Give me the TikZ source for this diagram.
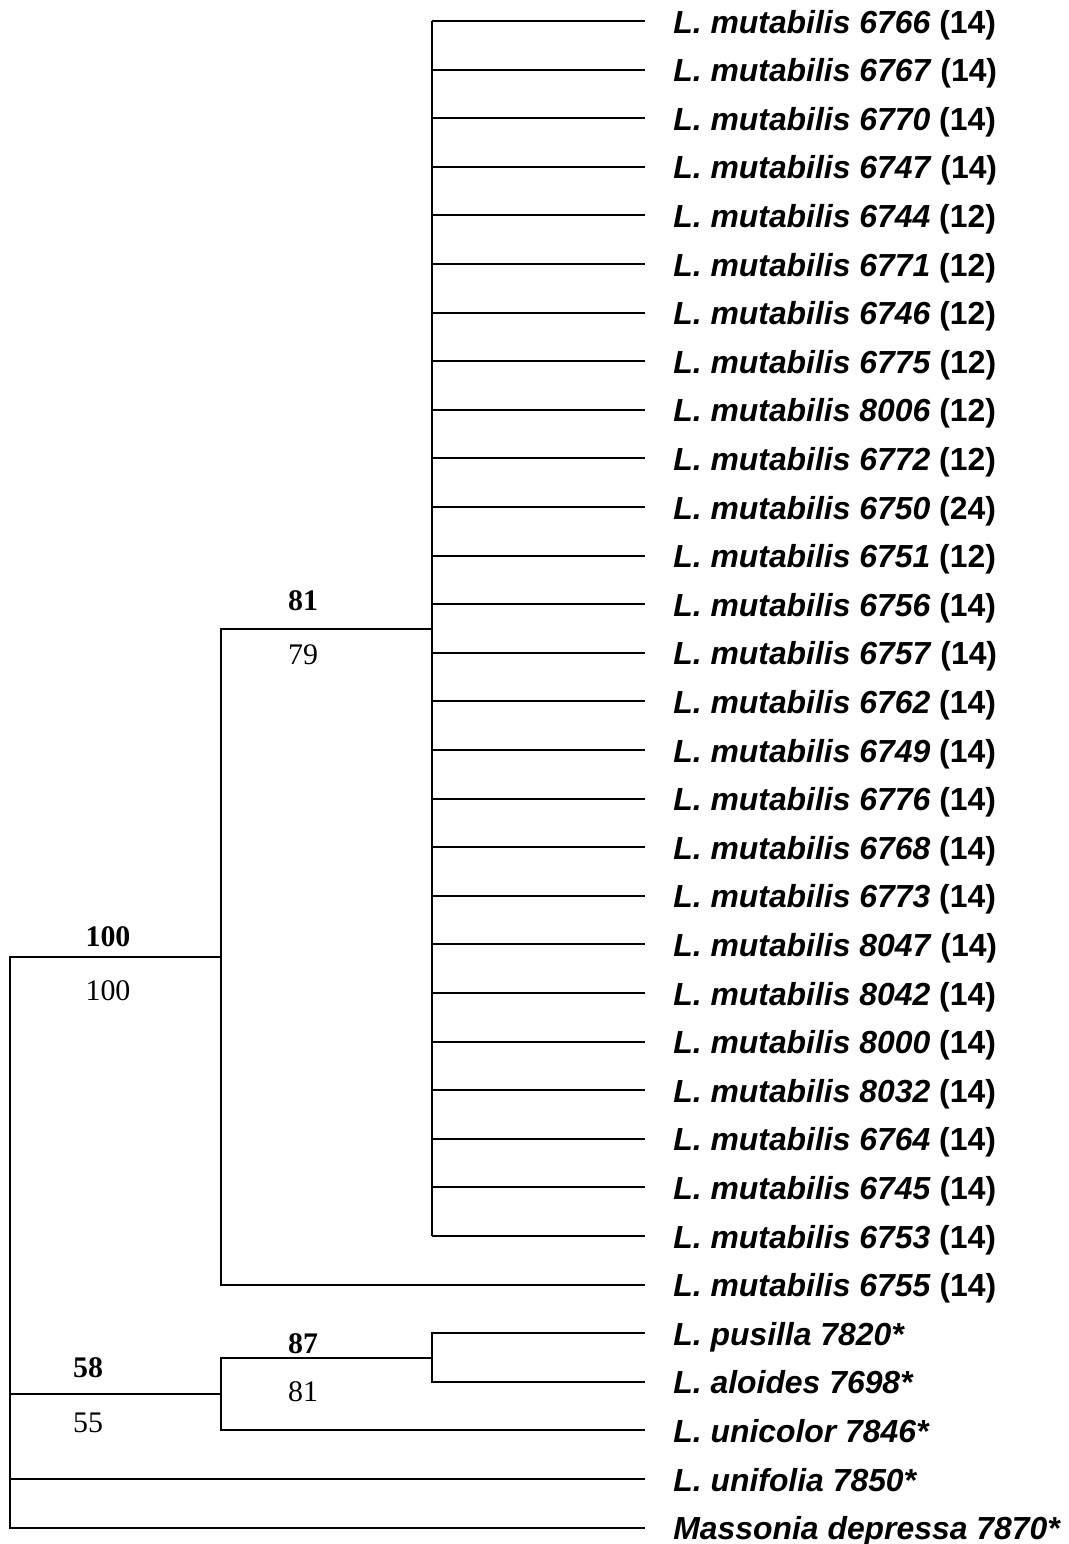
\documentclass[tikz,border=0pt]{standalone}
\usepackage{fontspec}
\setmainfont{Liberation Serif}
\setsansfont{Liberation Sans}
\usetikzlibrary{positioning, calc}

\tikzset{
  branch/.style={line width=1bp},
  taxon/.style={anchor=base west, inner sep=0pt, font=\sffamily\bfseries\fontsize{16}{19}\selectfont},
  boot/.style={inner sep=0pt, font=\fontsize{15}{18}\selectfont},
  bootb/.style={boot, font=\bfseries\fontsize{15}{18}\selectfont},
}

\begin{document}
\begin{tikzpicture}[x=0.5bp, y=-0.5bp]
  \useasboundingbox (0,0) rectangle (1068,1544);
  % tips of L. mutabilis
  \foreach \id/\n [count=\i from 0] in {6766/14, 6767/14, 6770/14, 6747/14, 6744/12,
      6771/12, 6746/12, 6775/12, 8006/12, 6772/12, 6750/24, 6751/12, 6756/14, 6757/14,
      6762/14, 6749/14, 6776/14, 6768/14, 6773/14, 8047/14, 8042/14, 8000/14, 8032/14,
      6764/14, 6745/14, 6753/14, 6755/14}{
    \coordinate (tip\i) at (645,21+48.6*\i);
    \node[taxon] (lab\i) at ([xshift=14bp,yshift=-6bp]tip\i) {\textit{L. mutabilis \id} (\n)};
  }
  % outgroup tips
  \foreach \sp [count=\i from 27] in {L. pusilla 7820*, L. aloides 7698*, L. unicolor 7846*,
      L. unifolia 7850*, Massonia depressa 7870*}{
    \coordinate (tip\i) at (645,21+48.6*\i);
    \node[taxon] (lab\i) at ([xshift=14bp,yshift=-6bp]tip\i) {\textit{\sp}};
  }
  % internal nodes
  \coordinate (mut) at (432,628.5);
  \coordinate (mutall) at (221,956.5);
  \coordinate (pusal) at (432,1357.5);
  \coordinate (unic) at (221,1394);
  \coordinate (root) at (10,1242);
  % branches
  \draw[branch] (mut |- tip0) -- (mut |- tip25);
  \foreach \i in {0,...,25}
    \draw[branch] (mut |- tip\i) -- (tip\i);
  \draw[branch] (mut) -| (mutall) |- (tip26);
  \draw[branch] (tip27) -| (pusal) |- (tip28);
  \draw[branch] (pusal) -| (unic) |- (tip29);
  \draw[branch] (mutall) -| (root) |- (tip31);
  \draw[branch] (unic) -- (root |- unic);
  \draw[branch] (root |- tip30) -- (tip30);
  % support values
  \node[bootb] (b81) at (303,601) {81};
  \node[boot] (j79) at (303,655) {79};
  \node[bootb] (b100) at (108,937) {100};
  \node[boot] (j100) at (108,991) {100};
  \node[bootb] (b87) at (303,1344) {87};
  \node[boot] (j81) at (303,1392) {81};
  \node[bootb] (b58) at (88,1368) {58};
  \node[boot] (j55) at (88,1423) {55};
\end{tikzpicture}
\end{document}
